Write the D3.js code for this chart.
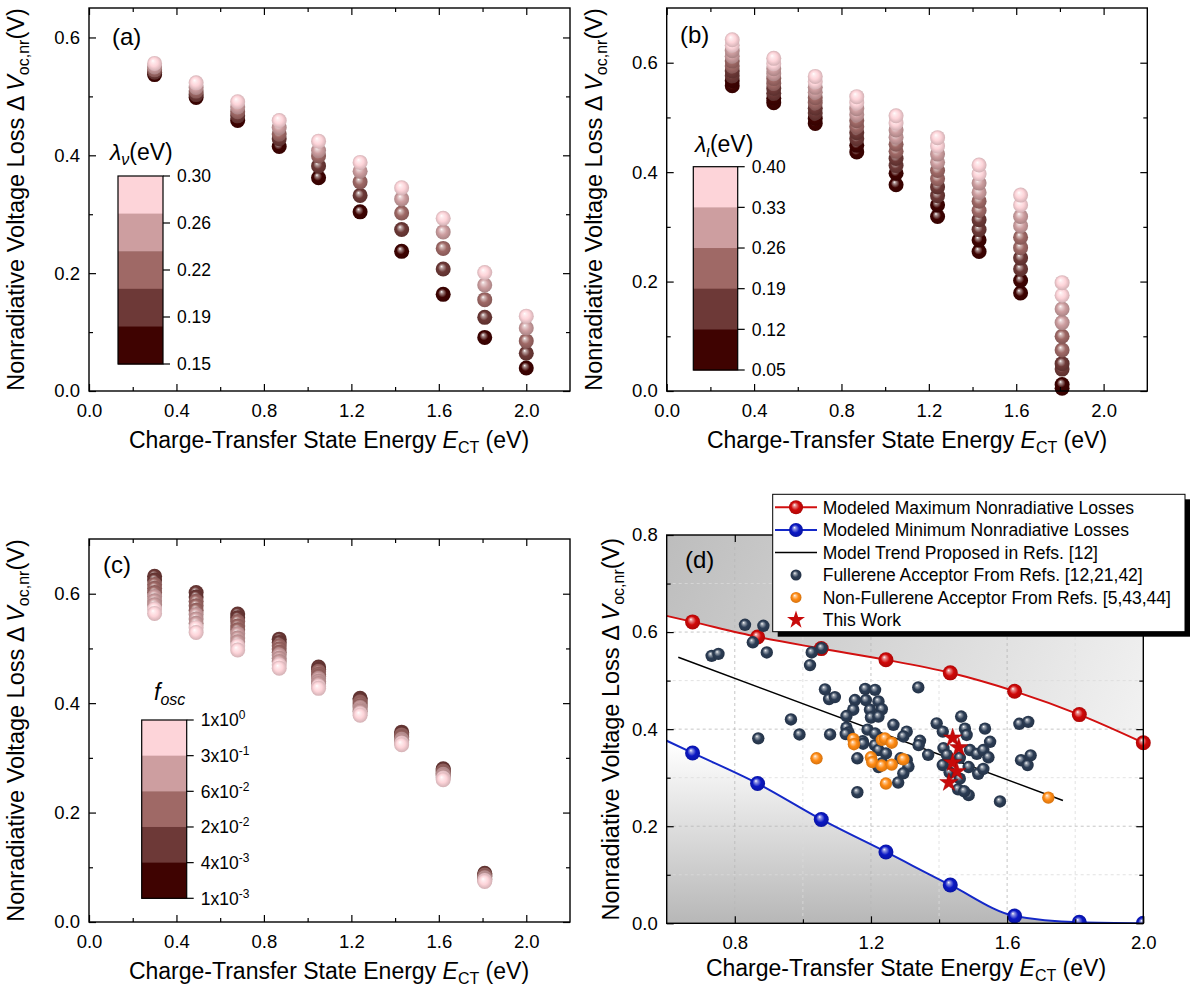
<!DOCTYPE html>
<html><head><meta charset="utf-8">
<script src="https://cdn.jsdelivr.net/npm/d3@7"></script>
<style>body{margin:0;background:#fff}svg{display:block}text{font-family:'Liberation Sans',Arial,Helvetica,sans-serif;fill:#000}</style>
</head><body>
<svg id="chart" width="1190" height="992"></svg>
<script>
// ---------------- DATA ----------------
// Panel (a): lambda_v levels (top colour = 0.30 eV ... 0.15 eV)
const ectA = [0.30,0.49,0.68,0.87,1.05,1.24,1.43,1.62,1.81,2.00];
const lossA_030 = [0.556,0.523,0.491,0.459,0.424,0.388,0.345,0.293,0.201,0.127];
const lossA_026 = [0.550,0.515,0.482,0.447,0.408,0.373,0.326,0.270,0.180,0.107];
const lossA_022 = [0.545,0.509,0.474,0.436,0.399,0.355,0.302,0.242,0.155,0.085];
const lossA_019 = [0.541,0.503,0.467,0.428,0.382,0.332,0.274,0.207,0.125,0.064];
const lossA_015 = [0.537,0.498,0.459,0.415,0.362,0.304,0.237,0.164,0.091,0.039];
const lambdaVLabels = ["0.30","0.26","0.22","0.19","0.15"];

// Panel (b): lambda_t levels (0 = largest, light; 9 = smallest, dark)
const ectB = [0.30,0.49,0.68,0.87,1.05,1.24,1.43,1.62,1.81];
const lossB_0 = [0.642,0.608,0.575,0.538,0.503,0.463,0.413,0.358,0.198];
const lossB_1 = [0.632,0.598,0.565,0.527,0.490,0.448,0.397,0.340,0.175];
const lossB_2 = [0.622,0.589,0.555,0.516,0.477,0.433,0.380,0.319,0.150];
const lossB_3 = [0.612,0.580,0.546,0.505,0.464,0.418,0.363,0.302,0.125];
const lossB_4 = [0.603,0.571,0.536,0.494,0.451,0.403,0.347,0.281,0.100];
const lossB_5 = [0.594,0.562,0.527,0.483,0.438,0.388,0.330,0.262,0.075];
const lossB_6 = [0.585,0.553,0.517,0.472,0.425,0.373,0.313,0.243,0.050];
const lossB_7 = [0.576,0.544,0.508,0.461,0.412,0.357,0.295,0.223,0.040];
const lossB_8 = [0.567,0.535,0.498,0.449,0.398,0.340,0.276,0.202,0.012];
const lossB_9 = [0.558,0.527,0.489,0.437,0.377,0.319,0.255,0.179,0.005];
const lambdaTLabels = ["0.40","0.33","0.26","0.19","0.12","0.05"];

// Panel (c): f_osc levels (0 = top, dark ... 9 = bottom, light)
const ectC = [0.30,0.49,0.68,0.87,1.05,1.24,1.43,1.62,1.81];
const lossC_0 = [0.632,0.602,0.563,0.517,0.466,0.409,0.347,0.280,0.089];
const lossC_1 = [0.625,0.594,0.556,0.511,0.462,0.406,0.344,0.278,0.087];
const lossC_2 = [0.617,0.586,0.549,0.505,0.458,0.402,0.342,0.276,0.086];
const lossC_3 = [0.610,0.578,0.541,0.499,0.453,0.399,0.339,0.274,0.084];
const lossC_4 = [0.602,0.570,0.534,0.493,0.449,0.395,0.337,0.272,0.083];
const lossC_5 = [0.595,0.562,0.527,0.488,0.445,0.392,0.334,0.270,0.081];
const lossC_6 = [0.587,0.554,0.519,0.482,0.440,0.388,0.332,0.268,0.079];
const lossC_7 = [0.580,0.546,0.512,0.476,0.436,0.385,0.329,0.265,0.078];
const lossC_8 = [0.572,0.538,0.505,0.470,0.431,0.381,0.327,0.263,0.076];
const lossC_9 = [0.564,0.529,0.497,0.464,0.427,0.378,0.324,0.260,0.074];
const foscMant = ["1x10","3x10","6x10","2x10","4x10","1x10"];
const foscExp  = ["0","-1","-2","-2","-3","-3"];

// Panel (d)
const modelE   = [0.676,0.867,1.054,1.244,1.433,1.622,1.812,2.000];
const maxLoss  = [0.621,0.590,0.566,0.543,0.516,0.478,0.430,0.372];
const minLoss  = [0.351,0.288,0.214,0.147,0.079,0.015,0.002,0.000];
const trendE   = [0.634,1.764];
const trendLoss= [0.548,0.253];
const fullereneE = [0.830,0.884,0.853,0.894,0.732,0.752,1.026,1.055,1.021,
  1.065,1.077,1.094,0.965,0.990,0.869,1.080,
  1.183,1.212,1.153,1.185,1.222,1.148,1.197,1.232,1.128,1.200,1.222,1.128,1.134,1.190,1.176,1.266,1.305,1.295,1.212,1.212,1.222,1.244,1.160,1.222,1.233,1.305,1.310,1.295,1.280,1.160,1.344,1.340,1.368,1.339,1.126,1.177,1.287,
  1.393,1.411,1.465,1.476,1.481,1.535,1.550,1.413,1.411,1.423,1.461,1.491,1.511,1.530,1.545,1.515,1.530,1.487,1.461,1.456,1.487,1.474,1.431,1.579,
  1.636,1.662,1.641,1.669,1.660];
const fullereneLoss = [0.615,0.613,0.579,0.558,0.551,0.555,0.558,0.567,0.532,
  0.482,0.462,0.466,0.420,0.389,0.381,0.389,
  0.483,0.481,0.460,0.460,0.457,0.440,0.440,0.441,0.427,0.424,0.426,0.403,0.393,0.399,0.375,0.409,0.395,0.385,0.391,0.367,0.357,0.350,0.340,0.322,0.330,0.336,0.323,0.309,0.290,0.270,0.376,0.367,0.347,0.486,0.390,0.370,0.340,
  0.412,0.395,0.426,0.401,0.388,0.401,0.374,0.361,0.326,0.347,0.341,0.357,0.349,0.357,0.342,0.308,0.318,0.322,0.298,0.276,0.264,0.272,0.311,0.251,
  0.411,0.415,0.336,0.346,0.326];
const nfaE    = [1.040,1.148,1.150,1.200,1.204,1.232,1.241,1.261,1.232,1.261,1.244,1.295,1.721];
const nfaLoss = [0.340,0.380,0.369,0.342,0.332,0.378,0.381,0.372,0.325,0.327,0.288,0.338,0.259];
const starE    = [1.440,1.458,1.440,1.452,1.429];
const starLoss = [0.382,0.362,0.331,0.313,0.290];
const legendLabels = ["Modeled Maximum Nonradiative Losses","Modeled Minimum Nonradiative Losses",
  "Model Trend Proposed in Refs. [12]","Fullerene Acceptor From Refs. [12,21,42]",
  "Non-Fullerene Acceptor From Refs. [5,43,44]","This Work"];

// ---------------- STYLE ----------------
const FONT = "'Liberation Sans', Arial, Helvetica, sans-serif";
const C1="#FDD4D9", C2="#CD9EA0", C3="#9F6966", C4="#6D3937", C5="#3F0301";
const NAVY="#2C3D55", ORANGE="#FF8A12", RED="#D00808", BLUE="#0B18C4";

const svg = d3.select("#chart");
svg.append("rect").attr("width",1190).attr("height",992).attr("fill","#fff");
const defs = svg.append("defs");
const gradCache = {};
function sphere(base){
  if(gradCache[base]) return gradCache[base];
  const id = "sph"+Object.keys(gradCache).length;
  const g = defs.append("radialGradient").attr("id",id)
    .attr("cx","50%").attr("cy","50%").attr("r","52%").attr("fx","38%").attr("fy","32%");
  g.append("stop").attr("offset","0%").attr("stop-color","#ffffff");
  g.append("stop").attr("offset","18%").attr("stop-color",d3.interpolateRgb(base,"#ffffff")(0.55));
  g.append("stop").attr("offset","55%").attr("stop-color",base);
  g.append("stop").attr("offset","100%").attr("stop-color",d3.color(base).darker(0.55).formatHex());
  gradCache[base] = `url(#${id})`;
  return gradCache[base];
}

function makePanel(p){
  const x = d3.scaleLinear().domain(p.xd).range([p.l,p.r]);
  const y = d3.scaleLinear().domain(p.yd).range([p.b,p.t]);
  const g = svg.append("g");
  return {x,y,g,p};
}
function styleAxis(s){
  s.select(".domain").remove();
  s.attr("font-family",null).attr("font-size",null);
  s.selectAll("line").attr("stroke","#000").attr("stroke-width",1.2);
  s.selectAll("text").attr("font-size",18.5).attr("fill","#000").style("font-family",FONT);
}
function drawAxes(P){
  const {x,y,g,p} = P;
  const A = g.append("g");
  const f = d3.format(".1f"), none = ()=>"";
  A.append("g").attr("transform",`translate(0,${p.b})`).call(d3.axisBottom(x).tickValues(p.xMaj).tickSize(-7).tickPadding(13).tickFormat(f)).call(styleAxis);
  A.append("g").attr("transform",`translate(0,${p.b})`).call(d3.axisBottom(x).tickValues(p.xMin).tickSize(-4).tickFormat(none)).call(styleAxis);
  A.append("g").attr("transform",`translate(0,${p.t})`).call(d3.axisTop(x).tickValues(p.xMaj).tickSize(-7).tickFormat(none)).call(styleAxis);
  A.append("g").attr("transform",`translate(0,${p.t})`).call(d3.axisTop(x).tickValues(p.xMin).tickSize(-4).tickFormat(none)).call(styleAxis);
  A.append("g").attr("transform",`translate(${p.l},0)`).call(d3.axisLeft(y).tickValues(p.yMaj).tickSize(-7).tickPadding(9).tickFormat(f)).call(styleAxis);
  A.append("g").attr("transform",`translate(${p.l},0)`).call(d3.axisLeft(y).tickValues(p.yMin).tickSize(-4).tickFormat(none)).call(styleAxis);
  A.append("g").attr("transform",`translate(${p.r},0)`).call(d3.axisRight(y).tickValues(p.yMaj).tickSize(-7).tickFormat(none)).call(styleAxis);
  A.append("g").attr("transform",`translate(${p.r},0)`).call(d3.axisRight(y).tickValues(p.yMin).tickSize(-4).tickFormat(none)).call(styleAxis);
  A.append("rect").attr("x",p.l).attr("y",p.t).attr("width",p.r-p.l).attr("height",p.b-p.t)
    .attr("fill","none").attr("stroke","#000").attr("stroke-width",1.4);
  // panel letter
  g.append("text").attr("x",p.labX).attr("y",p.labY).attr("font-size",24).text(p.label);
  // y title
  const yt = g.append("text").attr("transform",`translate(${p.ytX},${(p.t+p.b)/2}) rotate(-90)`)
    .attr("text-anchor","middle").attr("font-size",23.5);
  yt.append("tspan").text("Nonradiative Voltage Loss \u0394\u2009");
  yt.append("tspan").attr("font-style","italic").text("V");
  yt.append("tspan").attr("font-size",16).attr("dy",5).text("oc,nr");
  yt.append("tspan").attr("dy",-5).text("(V)");
  // x title
  const xt = g.append("text").attr("x",p.xtX).attr("y",p.xtY).attr("text-anchor","middle").attr("font-size",23);
  xt.append("tspan").text("Charge-Transfer State Energy ");
  xt.append("tspan").attr("font-style","italic").text("E");
  xt.append("tspan").attr("font-size",16).attr("dy",5).text("CT");
  xt.append("tspan").attr("dy",-5).text(" (eV)");
}
function drawSpheres(P, xs, series, colors, r){
  series.forEach((vals,i)=>{
    P.g.append("g").selectAll("circle").data(vals).join("circle")
      .attr("cx",(d,j)=>P.x(xs[j])).attr("cy",d=>P.y(d)).attr("r",r)
      .attr("fill",sphere(colors[i]));
  });
}
function colorbar(g, x0, y0, w, h, bands, tickFr, labelFn){
  const n = bands.length, bh = h/n;
  bands.forEach((c,i)=>g.append("rect").attr("x",x0).attr("y",y0+i*bh).attr("width",w).attr("height",bh+0.5).attr("fill",c));
  g.append("rect").attr("x",x0).attr("y",y0).attr("width",w).attr("height",h).attr("fill","none").attr("stroke","#000").attr("stroke-width",1.2);
  tickFr.forEach((f,i)=>{
    const yy = y0+f*h;
    g.append("line").attr("x1",x0+w).attr("x2",x0+w+7).attr("y1",yy).attr("y2",yy).attr("stroke","#000").attr("stroke-width",1.2);
    const t = g.append("text").attr("x",x0+w+14).attr("y",yy).attr("dy","0.36em").attr("font-size",17.5);
    labelFn(t,i);
  });
}

// ---------------- PANEL (a) ----------------
const PA = makePanel({l:89,r:570,t:8,b:391,xd:[0,2.2],yd:[0,0.65],
  xMaj:[0,0.4,0.8,1.2,1.6,2.0],xMin:[0.2,0.6,1.0,1.4,1.8],yMaj:[0,0.2,0.4,0.6],yMin:[0.1,0.3,0.5],
  label:"(a)",labX:112,labY:45,ytX:24,xtX:329,xtY:448});
drawSpheres(PA, ectA, [lossA_015,lossA_019,lossA_022,lossA_026,lossA_030], [C5,C4,C3,C2,C1], 7.5);
colorbar(PA.g,118,176,45,188,[C1,C2,C3,C4,C5],[0,0.25,0.5,0.75,1],(t,i)=>t.text(lambdaVLabels[i]));
{ const t = PA.g.append("text").attr("x",110).attr("y",160).attr("font-size",23);
  t.append("tspan").attr("font-style","italic").text("\u03BB");
  t.append("tspan").attr("font-style","italic").attr("font-size",16).attr("dy",5).text("\u03BD");
  t.append("tspan").attr("dy",-5).text("(eV)"); }
drawAxes(PA);

// ---------------- PANEL (b) ----------------
const PB = makePanel({l:666.7,r:1147.3,t:8,b:391,xd:[0,2.2],yd:[0,0.7],
  xMaj:[0,0.4,0.8,1.2,1.6,2.0],xMin:[0.2,0.6,1.0,1.4,1.8],yMaj:[0,0.2,0.4,0.6],yMin:[0.1,0.3,0.5],
  label:"(b)",labX:680,labY:43,ytX:602,xtX:907,xtY:448});
drawSpheres(PB, ectB, [lossB_9,lossB_8,lossB_7,lossB_6,lossB_5,lossB_4,lossB_3,lossB_2,lossB_1,lossB_0],
  [C5,C5,C4,C4,C3,C3,C2,C2,C1,C1], 7.5);
colorbar(PB.g,693.3,166.7,44.4,203.3,[C1,C2,C3,C4,C5],[0,0.2,0.4,0.6,0.8,1],(t,i)=>t.text(lambdaTLabels[i]));
{ const t = PB.g.append("text").attr("x",695).attr("y",152).attr("font-size",23);
  t.append("tspan").attr("font-style","italic").text("\u03BB");
  t.append("tspan").attr("font-style","italic").attr("font-size",16).attr("dy",5).text("\u03B9");
  t.append("tspan").attr("dy",-5).text("(eV)"); }
drawAxes(PB);

// ---------------- PANEL (c) ----------------
const PC = makePanel({l:89,r:570,t:539,b:922,xd:[0,2.2],yd:[0,0.7],
  xMaj:[0,0.4,0.8,1.2,1.6,2.0],xMin:[0.2,0.6,1.0,1.4,1.8],yMaj:[0,0.2,0.4,0.6],yMin:[0.1,0.3,0.5],
  label:"(c)",labX:103,labY:573,ytX:24,xtX:329,xtY:979});
drawSpheres(PC, ectC, [lossC_0,lossC_1,lossC_2,lossC_3,lossC_4,lossC_5,lossC_6,lossC_7,lossC_8,lossC_9],
  [C4,C4,C3,C3,C3,C2,C2,C2,C1,C1], 7.5);
colorbar(PC.g,141.7,720,45,178.3,[C1,C2,C3,C4,C5],[0,0.2,0.4,0.6,0.8,1],(t,i)=>{
  t.append("tspan").text(foscMant[i]);
  t.append("tspan").attr("font-size",12).attr("dy",-7).text(foscExp[i]);
});
{ const t = PC.g.append("text").attr("x",154).attr("y",700).attr("font-size",23);
  t.append("tspan").attr("font-style","italic").text("f");
  t.append("tspan").attr("font-style","italic").attr("font-size",16).attr("dy",5).text("osc"); }
drawAxes(PC);

// ---------------- PANEL (d) ----------------
const PD = makePanel({l:666.7,r:1143.3,t:535,b:923.3,xd:[0.6,2.0],yd:[0,0.8],
  xMaj:[0.8,1.2,1.6,2.0],xMin:[1.0,1.4,1.8],yMaj:[0,0.2,0.4,0.6,0.8],yMin:[0.1,0.3,0.5,0.7],
  label:"(d)",labX:685,labY:568,ytX:619,xtX:906,xtY:976});
{
  const {x,y,g,p} = PD;
  defs.append("clipPath").attr("id","clipD").append("rect").attr("x",p.l).attr("y",p.t).attr("width",p.r-p.l).attr("height",p.b-p.t);
  const gt = defs.append("linearGradient").attr("id","bgTop").attr("gradientUnits","userSpaceOnUse")
    .attr("x1",p.l).attr("y1",p.t).attr("x2",p.r).attr("y2",p.t+220);
  gt.append("stop").attr("offset","0%").attr("stop-color","#bdbdbd");
  gt.append("stop").attr("offset","100%").attr("stop-color","#f3f3f3");
  const gb = defs.append("linearGradient").attr("id","bgBot").attr("gradientUnits","userSpaceOnUse")
    .attr("x1",0).attr("y1",y(0.37)).attr("x2",0).attr("y2",y(0));
  gb.append("stop").attr("offset","0%").attr("stop-color","#ffffff");
  gb.append("stop").attr("offset","100%").attr("stop-color","#b7b7b7");

  // extend the model curves to the left frame edge by linear extrapolation
  const ext = (vals)=> vals[0] + (vals[0]-vals[1])/(modelE[1]-modelE[0])*(modelE[0]-p.xd[0]);
  const maxPts = [[p.xd[0],ext(maxLoss)]].concat(modelE.map((e,i)=>[e,maxLoss[i]]));
  const minPts = [[p.xd[0],ext(minLoss)]].concat(modelE.map((e,i)=>[e,minLoss[i]]));
  const C = g.append("g").attr("clip-path","url(#clipD)");
  C.append("rect").attr("x",p.l).attr("y",p.t).attr("width",p.r-p.l).attr("height",p.b-p.t).attr("fill","url(#bgTop)");
  const area = d3.area().x(d=>x(d[0])).y0(y(0)).y1(d=>y(d[1])).curve(d3.curveMonotoneX);
  C.append("path").datum(maxPts).attr("d",area).attr("fill","#ffffff");
  C.append("path").datum(minPts).attr("d",area).attr("fill","url(#bgBot)");
  // grid
  const G = C.append("g");
  [0.8,1.2,1.6].forEach(v=>G.append("line").attr("x1",x(v)).attr("x2",x(v)).attr("y1",p.t).attr("y2",p.b).attr("stroke","#b8b8b8").attr("stroke-dasharray","3,3").attr("stroke-width",0.8));
  [1.0,1.4,1.8].forEach(v=>G.append("line").attr("x1",x(v)).attr("x2",x(v)).attr("y1",p.t).attr("y2",p.b).attr("stroke","#dadada").attr("stroke-dasharray","3,3").attr("stroke-width",0.8));
  [0.2,0.4,0.6].forEach(v=>G.append("line").attr("y1",y(v)).attr("y2",y(v)).attr("x1",p.l).attr("x2",p.r).attr("stroke","#b8b8b8").attr("stroke-dasharray","3,3").attr("stroke-width",0.8));
  [0.1,0.3,0.5,0.7].forEach(v=>G.append("line").attr("y1",y(v)).attr("y2",y(v)).attr("x1",p.l).attr("x2",p.r).attr("stroke","#dadada").attr("stroke-dasharray","3,3").attr("stroke-width",0.8));
  const line = d3.line().x(d=>x(d[0])).y(d=>y(d[1])).curve(d3.curveMonotoneX);
  C.append("path").datum(maxPts).attr("d",line).attr("fill","none").attr("stroke","#D21010").attr("stroke-width",2);
  C.append("path").datum(minPts).attr("d",line).attr("fill","none").attr("stroke","#1428C8").attr("stroke-width",2);
  // model markers
  g.append("g").selectAll("circle").data(maxLoss).join("circle")
    .attr("cx",(d,i)=>x(modelE[i])).attr("cy",d=>y(d)).attr("r",7.5).attr("fill",sphere(RED));
  C.append("g").selectAll("circle").data(minLoss).join("circle")
    .attr("cx",(d,i)=>x(modelE[i])).attr("cy",d=>y(d)).attr("r",7.5).attr("fill",sphere(BLUE));
  // trend line
  g.append("line").attr("x1",x(trendE[0])).attr("y1",y(trendLoss[0])).attr("x2",x(trendE[1])).attr("y2",y(trendLoss[1]))
    .attr("stroke","#000").attr("stroke-width",1.5);
  // scatter
  g.append("g").selectAll("circle").data(fullereneLoss).join("circle")
    .attr("cx",(d,i)=>x(fullereneE[i])).attr("cy",d=>y(d)).attr("r",6.2).attr("fill",sphere(NAVY));
  g.append("g").selectAll("circle").data(nfaLoss).join("circle")
    .attr("cx",(d,i)=>x(nfaE[i])).attr("cy",d=>y(d)).attr("r",6.2).attr("fill",sphere(ORANGE));
  const star = d3.symbol().type(d3.symbolStar).size(105);
  g.append("g").selectAll("path").data(starLoss).join("path")
    .attr("transform",(d,i)=>`translate(${x(starE[i])},${y(d)})`).attr("d",star).attr("fill","#C80A0A").attr("stroke","#a00000").attr("stroke-width",0.5);
  drawAxes(PD);

  // legend
  const L = svg.append("g");
  const lx0=772.7, ly0=494.3, lw=412.3, lh=137.4;
  L.append("rect").attr("x",lx0+5).attr("y",ly0+5).attr("width",lw).attr("height",lh).attr("fill","#000");
  L.append("rect").attr("x",lx0).attr("y",ly0).attr("width",lw).attr("height",lh).attr("fill","#fff").attr("stroke","#000").attr("stroke-width",1);
  const rows = [507.3,530,552.6,575,597.4,620];
  const sx1=775, sx2=817, sc=796;
  legendLabels.forEach((s,i)=>L.append("text").attr("x",822.7).attr("y",rows[i]).attr("dy","0.36em").attr("font-size",17.5).text(s));
  L.append("line").attr("x1",sx1).attr("x2",sx2).attr("y1",rows[0]).attr("y2",rows[0]).attr("stroke","#D21010").attr("stroke-width",2);
  L.append("circle").attr("cx",sc).attr("cy",rows[0]).attr("r",7).attr("fill",sphere(RED));
  L.append("line").attr("x1",sx1).attr("x2",sx2).attr("y1",rows[1]).attr("y2",rows[1]).attr("stroke","#1428C8").attr("stroke-width",2);
  L.append("circle").attr("cx",sc).attr("cy",rows[1]).attr("r",7).attr("fill",sphere(BLUE));
  L.append("line").attr("x1",sx1).attr("x2",sx2).attr("y1",rows[2]).attr("y2",rows[2]).attr("stroke","#000").attr("stroke-width",1.5);
  L.append("circle").attr("cx",sc).attr("cy",rows[3]).attr("r",5.5).attr("fill",sphere(NAVY));
  L.append("circle").attr("cx",sc).attr("cy",rows[4]).attr("r",5.5).attr("fill",sphere(ORANGE));
  L.append("path").attr("transform",`translate(${sc},${rows[5]})`).attr("d",d3.symbol().type(d3.symbolStar).size(100)).attr("fill","#C80A0A");
}
</script>
</body></html>
